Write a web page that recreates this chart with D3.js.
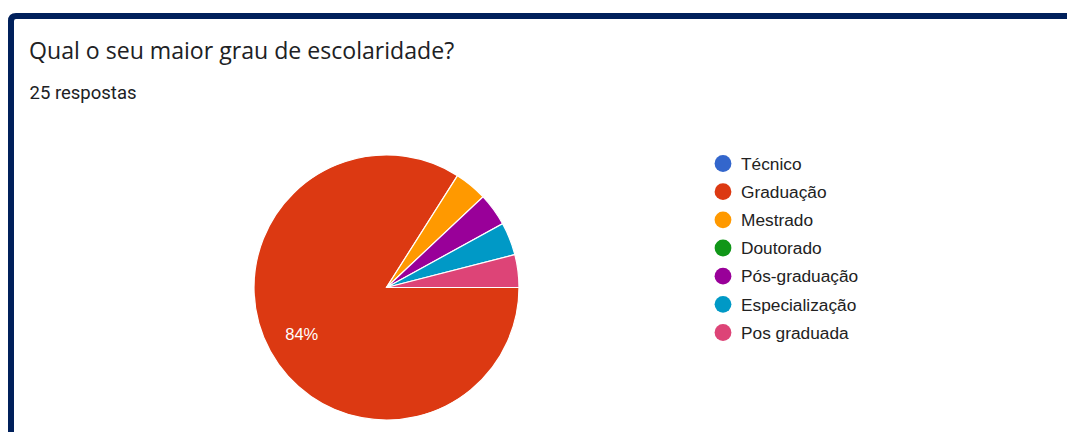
<!DOCTYPE html>
<html>
<head>
<meta charset="utf-8">
<script src="https://cdn.jsdelivr.net/npm/d3@7"></script>
<style>
  html, body { margin: 0; padding: 0; background: #fff; }
  svg { display: block; }
</style>
</head>
<body>
<svg id="chart" width="1067" height="432"></svg>
<script>
// Survey answers: highest education level (25 responses)
const categories = ["Técnico", "Graduação", "Mestrado", "Doutorado", "Pós-graduação", "Especialização", "Pos graduada"];
const responses = [0, 21, 1, 0, 1, 1, 1];
const colors = ["#3366cc", "#dc3912", "#ff9900", "#109618", "#990099", "#0099c6", "#dd4477"];
const title = "Qual o seu maior grau de escolaridade?";
const subtitle = "25 respostas";

const svg = d3.select("#chart");
const W = 1067, H = 432;

// Card frame (dark blue border on top and left)
svg.append("path")
  .attr("d", `M11,${H + 5} L11,21 Q11,16 16,16 L${W + 5},16`)
  .attr("fill", "none")
  .attr("stroke", "#00205b")
  .attr("stroke-width", 6);

svg.append("text")
  .attr("x", 29).attr("y", 59.3)
  .attr("font-family", "'Open Sans', Roboto, sans-serif")
  .attr("font-size", 23.1)
  .attr("fill", "#202124")
  .text(title);

svg.append("text")
  .attr("x", 29.5).attr("y", 98.5)
  .attr("font-family", "Roboto, sans-serif")
  .attr("font-size", 18.5)
  .attr("fill", "#202124")
  .text(subtitle);

// Pie
const cx = 386.5, cy = 287.5, r = 132.5;
const total = d3.sum(responses);
const data = categories.map((c, i) => ({ name: c, value: responses[i], color: colors[i] }));

const pie = d3.pie()
  .value(d => d.value)
  .sort(null)
  .startAngle(Math.PI / 2)
  .endAngle(Math.PI / 2 + 2 * Math.PI);

const arcs = pie(data);
const arc = d3.arc().innerRadius(0).outerRadius(r);
const labelArc = d3.arc().innerRadius(r * 0.73).outerRadius(r * 0.73);

const g = svg.append("g").attr("transform", `translate(${cx},${cy})`);

g.selectAll("path.slice")
  .data(arcs.filter(d => d.data.value > 0))
  .join("path")
  .attr("class", "slice")
  .attr("d", arc)
  .attr("fill", d => d.data.color)
  .attr("stroke", "#fff")
  .attr("stroke-width", 1.2);

// Percent label only on slices large enough to hold it
g.selectAll("text.pct")
  .data(arcs.filter(d => d.data.value / total > 0.1))
  .join("text")
  .attr("class", "pct")
  .attr("transform", d => `translate(${labelArc.centroid(d)})`)
  .attr("text-anchor", "middle")
  .attr("dy", "0.36em")
  .attr("font-family", "Arial, 'Liberation Sans', sans-serif")
  .attr("font-size", 16.5)
  .attr("fill", "#fff")
  .text(d => Math.round(d.data.value / total * 100) + "%");

// Legend
const legendY = d3.scalePoint()
  .domain(categories)
  .range([163.5, 332.5]);

const legend = svg.append("g");
const items = legend.selectAll("g")
  .data(data)
  .join("g")
  .attr("transform", d => `translate(723,${legendY(d.name)})`);

items.append("circle")
  .attr("r", 8.4)
  .attr("fill", d => d.color);

items.append("text")
  .attr("x", 18)
  .attr("dy", "0.36em")
  .attr("font-family", "Arial, 'Liberation Sans', sans-serif")
  .attr("font-size", 17.3)
  .attr("fill", "#222")
  .text(d => d.name);
</script>
</body>
</html>
